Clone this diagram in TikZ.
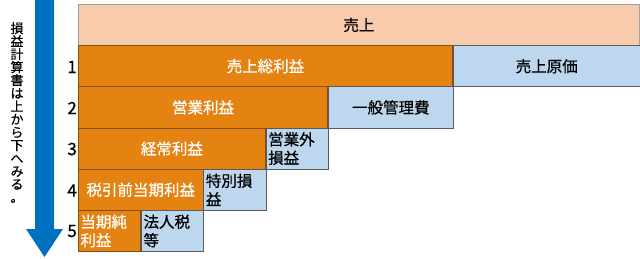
\documentclass[tikz,border=0pt]{standalone}
\usepackage{fontspec}
\setmainfont[FakeBold=0.6]{Noto Sans CJK JP}
\definecolor{orgC}{RGB}{228,130,18}
\definecolor{orgD}{RGB}{130,78,20}
\definecolor{bluC}{RGB}{189,215,238}
\definecolor{bluD}{RGB}{90,90,90}
\definecolor{peaC}{RGB}{248,203,173}
\definecolor{peaD}{RGB}{160,160,160}
\definecolor{arrC}{RGB}{0,112,192}
\begin{document}
\begin{tikzpicture}[x=1pt,y=-1pt,
  box/.style={line width=0.8pt, minimum height=41.2pt, anchor=north west, inner sep=0pt,
    font=\fontsize{15.5}{18.5}\selectfont},
  orangebox/.style={box, fill=orgC, draw=orgD, text=white},
  bluebox/.style={box, fill=bluC, draw=bluD, text=black},
  peachbox/.style={box, fill=peaC, draw=peaD, text=black},
  twoline/.style={align=left, inner sep=2pt},
  numlabel/.style={anchor=east, inner sep=0pt, font=\fontsize{17}{17}\selectfont}]
\def\uw{62.33pt}
\useasboundingbox (0,0) rectangle (640,259);
% arrow
\fill[arrC] (35,0) -- (54,0) -- (54,229) -- (63,229) -- (44.5,257) -- (26,229) -- (35,229) -- cycle;
\node[anchor=north, align=center, inner sep=0pt, font=\fontsize{13}{13}\selectfont] (caption) at (17,22)
  {損\\益\\計\\算\\書\\は\\上\\か\\ら\\下\\へ\\み\\る\\。};
% rows
\node[peachbox, minimum width=9*\uw] (sales) at (78,4) {売上};
\node[orangebox, minimum width=6*\uw] (gross) at (78,45.2) {売上総利益};
\node[bluebox, minimum width=3*\uw] (cogs) at (gross.north east) {売上原価};
\node[orangebox, minimum width=4*\uw] (op) at (78,86.4) {営業利益};
\node[bluebox, minimum width=2*\uw] (sga) at (op.north east) {一般管理費};
\node[orangebox, minimum width=3*\uw] (ord) at (78,127.6) {経常利益};
\node[bluebox, twoline, text width=\uw-4pt] (nonop) at (ord.north east) {営業外\\損益};
\node[orangebox, minimum width=2*\uw] (pretax) at (78,168.8) {税引前当期利益};
\node[bluebox, twoline, text width=\uw-4pt] (extra) at (pretax.north east) {特別損\\益};
\node[orangebox, twoline, text width=\uw-4pt] (net) at (78,210) {当期純\\利益};
\node[bluebox, twoline, text width=\uw-4pt] (tax) at (net.north east) {法人税\\等};
% numbers
\node[numlabel] (n1) at (77,67) {1};
\node[numlabel] (n2) at (77,108) {2};
\node[numlabel] (n3) at (77,149) {3};
\node[numlabel] (n4) at (77,190.5) {4};
\node[numlabel] (n5) at (77,231) {5};
\end{tikzpicture}
\end{document}
